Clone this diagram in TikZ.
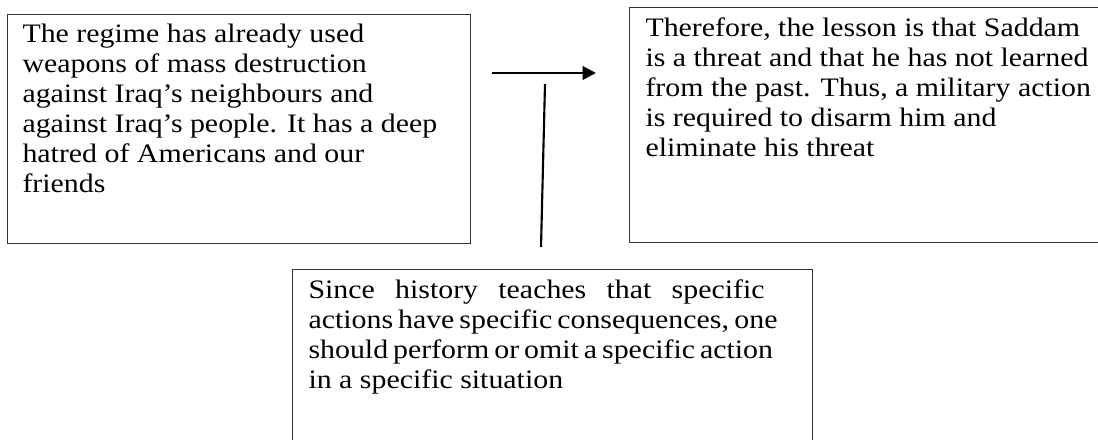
\documentclass[tikz,border=0pt]{standalone}
\usepackage{fontspec}
\setmainfont{Liberation Serif}[FakeStretch=1.12]
\usetikzlibrary{arrows.meta}

\newcommand{\justline}[1]{\makebox[342pt][s]{#1}}
\newcommand{\argtext}[3]{\parbox[t][#1][t]{#2}{#3}}

\begin{document}
\begin{tikzpicture}[x=0.75pt, y=-0.75pt,
    argbox/.style={draw=black!80, line width=0.8pt, anchor=north west,
      inner xsep=12pt, inner ysep=7.3pt,
      font=\fontsize{20pt}{22.5pt}\selectfont},
    link/.style={line width=1.6pt}]
  \useasboundingbox (0,0) rectangle (1098,439);
  \clip (0,0) rectangle (1098,439);
  % premise
  \node[argbox, inner xsep=11.25pt] (premise) at (7,14)
    {\argtext{157.15pt}{324.75pt}{The regime has already used\\
      weapons of mass destruction\\
      against Iraq’s neighbours and\\
      against Iraq’s people. It has a deep\\
      hatred of Americans and our\\
      friends}};
  % conclusion
  \node[argbox] (claim) at (629,7)
    {\argtext{161.65pt}{336pt}{Therefore, the lesson is that Saddam\\
      is a threat and that he has not learned\\
      from the past. Thus, a military action\\
      is required to disarm him and\\
      eliminate his threat}};
  % warrant
  \node[argbox] (warrant) at (292,269)
    {\argtext{130pt}{366pt}{%
      \justline{Since history teaches that specific}\\
      \justline{actions have specific consequences, one}\\
      \justline{should perform or omit a specific action}\\
      in a specific situation}};
  \coordinate (arrowtail) at (492,73);
  \coordinate (arrowtip) at (596,73);
  \draw[link, line width=2pt, -{Triangle[length=10pt, width=10pt]}] (arrowtail) -- (arrowtip);
  \coordinate (warranttop) at (545,84);
  \coordinate (warrantfoot) at (541,247);
  \draw[link] (warranttop) -- (warrantfoot);
\end{tikzpicture}
\end{document}
